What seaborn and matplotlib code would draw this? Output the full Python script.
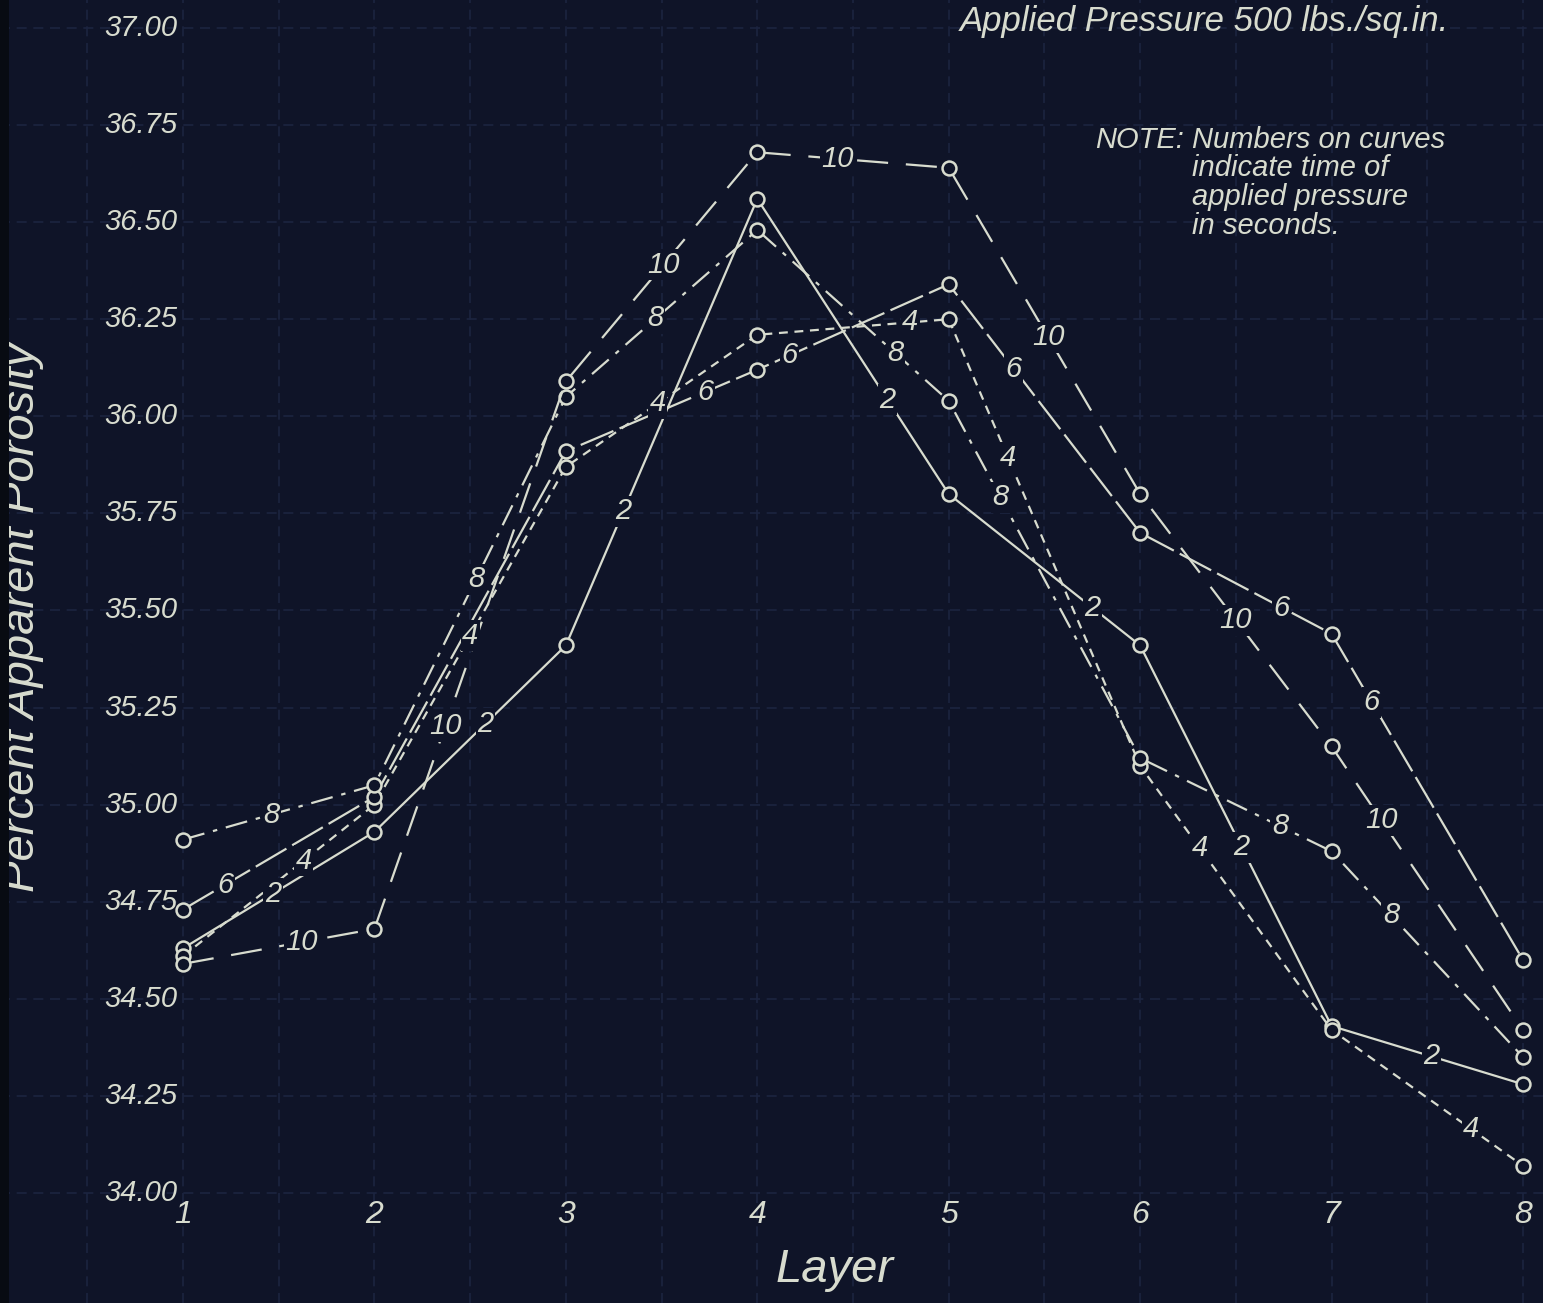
import numpy as np
import pandas as pd
import matplotlib.pyplot as plt
import seaborn as sns
from matplotlib.patches import Rectangle

# --- datos (porosidad aparente por capa) ---
layers = [1, 2, 3, 4, 5, 6, 7, 8]
por_2s = [34.63, 34.93, 35.41, 36.56, 35.80, 35.41, 34.43, 34.28]
por_4s = [34.61, 35.00, 35.87, 36.21, 36.25, 35.10, 34.42, 34.07]
por_6s = [34.73, 35.02, 35.91, 36.12, 36.34, 35.70, 35.44, 34.60]
por_8s = [34.91, 35.05, 36.05, 36.48, 36.04, 35.12, 34.88, 34.35]
por_10s = [34.59, 34.68, 36.09, 36.68, 36.64, 35.80, 35.15, 34.42]
times = ['2', '4', '6', '8', '10']

ytick_vals = [34.00, 34.25, 34.50, 34.75, 35.00, 35.25, 35.50, 35.75,
              36.00, 36.25, 36.50, 36.75, 37.00]
ytick_labels = ['34.00', '34.25', '34.50', '34.75', '35.00', '35.25', '35.50',
                '35.75', '36.00', '36.25', '36.50', '36.75', '37.00']
xtick_labels = ['1', '2', '3', '4', '5', '6', '7', '8']

df = pd.DataFrame({
    'layer': layers * 5,
    'porosity': por_2s + por_4s + por_6s + por_8s + por_10s,
    'time': sum([[t] * 8 for t in times], []),
})

# --- estilo "blueprint" ---
bg = '#0f1428'
fg = '#d8dccf'
grid_c = '#1c2440'
sns.set_style('dark')
plt.rcParams['font.family'] = ['Liberation Sans', 'DejaVu Sans']

line_styles = {
    '2': '-',
    '4': (0, (4, 3)),
    '6': (0, (16, 3)),
    '8': (0, (10, 4, 2, 4)),
    '10': (0, (14, 8)),
}

# posiciones de los numeros sobre cada curva: (segmento, fraccion)
label_spots = {
    '2': [(0, 0.47), (1, 0.58), (2, 0.30), (3, 0.68), (4, 0.75), (5, 0.53), (6, 0.52)],
    '4': [(0, 0.63), (1, 0.50), (2, 0.48), (3, 0.80), (4, 0.31), (5, 0.31), (6, 0.73)],
    '6': [(0, 0.22), (2, 0.73), (3, 0.17), (4, 0.34), (5, 0.74), (6, 0.21)],
    '8': [(0, 0.46), (1, 0.53), (2, 0.47), (3, 0.72), (4, 0.27), (5, 0.73), (6, 0.31)],
    '10': [(0, 0.62), (1, 0.37), (2, 0.51), (3, 0.42), (4, 0.52), (5, 0.50), (6, 0.26)],
}

fig = plt.figure(figsize=(15.43, 13.03), dpi=100)
fig.patch.set_facecolor(bg)
ax = fig.add_axes([0, 0, 1, 1])
ax.set_facecolor(bg)

for t in times:
    sub = df[df['time'] == t]
    sns.lineplot(data=sub, x='layer', y='porosity', ax=ax, color=fg,
                 linestyle=line_styles[t], linewidth=1.6, marker='o',
                 markersize=10, markerfacecolor=bg, markeredgecolor=fg,
                 markeredgewidth=1.8, estimator=None, sort=False,
                 legend=False, zorder=3)
    ys = sub['porosity'].to_numpy()
    xs = sub['layer'].to_numpy()
    for seg, f in label_spots[t]:
        lx = xs[seg] + f * (xs[seg + 1] - xs[seg])
        ly = ys[seg] + f * (ys[seg + 1] - ys[seg])
        ax.text(lx, ly, t, ha='center', va='center', fontsize=21,
                style='italic', color=fg, zorder=5,
                bbox=dict(boxstyle='square,pad=0.05', fc=bg, ec='none'))

# --- limites para reproducir el encuadre del plano ---
ax.set_xlim(0.044, 8.1045)
ax.set_ylim(33.7167, 37.0721)
ax.set_xticks(np.arange(0.5, 8.1, 0.5))
ax.set_yticks(ytick_vals)
ax.tick_params(length=0, labelleft=False, labelbottom=False)
ax.grid(True, color=grid_c, linestyle=(0, (6, 4)), linewidth=1.2)
ax.set_xlabel('')
ax.set_ylabel('')
for s in ax.spines.values():
    s.set_visible(False)

# etiquetas de los ejes escritas a mano
for v, lab in zip(ytick_vals, ytick_labels):
    ax.text(0.969, v, lab, ha='right', va='center', fontsize=21,
            style='italic', color=fg)
for x, lab in zip(layers, xtick_labels):
    ax.text(x, 33.943, lab, ha='center', va='center', fontsize=23,
            style='italic', color=fg)
ax.text(4.406, 33.771, 'Layer', ha='center', va='baseline', fontsize=34,
        style='italic', color=fg)

fig.text(22 / 1543, 1 - 617 / 1303, 'Percent Apparent Porosity', rotation=90,
         ha='center', va='center', fontsize=34, style='italic', color=fg)

fig.text(960 / 1543, 1 - 31 / 1303, 'Applied Pressure 500 lbs./sq.in.',
         ha='left', va='baseline', fontsize=25, style='italic', color=fg)

fig.text(1095 / 1543, 1 - 148 / 1303, 'NOTE:', ha='left', va='baseline',
         fontsize=21, style='italic', color=fg)
note_lines = ['Numbers on curves', 'indicate time of', 'applied pressure', 'in seconds.']
for i, line in enumerate(note_lines):
    fig.text(1192 / 1543, 1 - (148 + 28.5 * i) / 1303, line, ha='left',
             va='baseline', fontsize=21, style='italic', color=fg)

# borde oscuro del papel a la izquierda
fig.patches.append(Rectangle((0, 0), 9 / 1543, 1, transform=fig.transFigure,
                             facecolor='#080b12', edgecolor='none', zorder=10))

plt.savefig('out.png', dpi=100, facecolor=fig.get_facecolor())
